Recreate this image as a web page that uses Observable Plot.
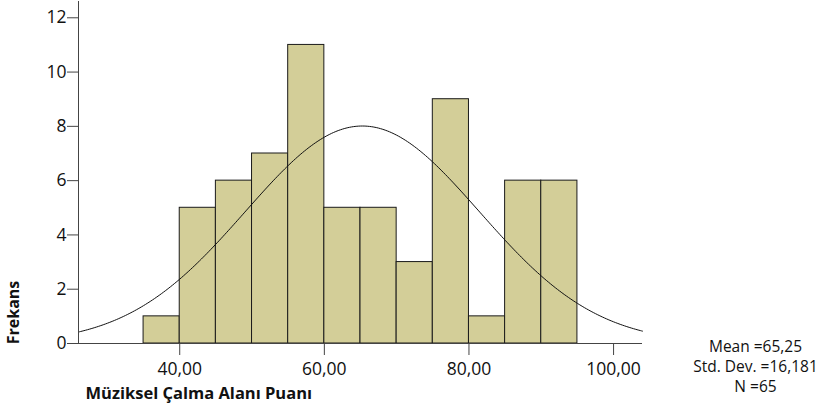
<!DOCTYPE html>
<html>
<head>
<meta charset="utf-8">
<script src="https://cdn.jsdelivr.net/npm/d3@7"></script>
<script src="https://cdn.jsdelivr.net/npm/@observablehq/plot@0.6"></script>
<style>
  html, body { margin: 0; padding: 0; background: #fff; }
  #chart svg { display: block; }
  #chart g[aria-label="x-axis tick label"], #chart g[aria-label="y-axis tick label"] { font-size: 17.5px; }
</style>
</head>
<body>
<div id="chart"></div>
<script>
// Histogram bins (lower edge) and frequencies
const binStart = [35, 40, 45, 50, 55, 60, 65, 70, 75, 80, 85, 90];
const counts   = [1, 5, 6, 7, 11, 5, 5, 3, 9, 1, 6, 6];
const binWidth = 5;
// Summary statistics shown in the chart
const mean = 65.25;
const stdDev = 16.181;
const nObs = 65;
const xTicks = [40, 60, 80, 100];
const yTicks = [0, 2, 4, 6, 8, 10, 12];
const xLabel = "Müziksel Çalma Alanı Puanı";
const yLabel = "Frekans";
const statsLines = ["Mean =65,25", "Std. Dev. =16,181", "N =65"];

const bars = binStart.map((s, i) => ({x1: s, x2: s + binWidth, y: counts[i]}));
// Fitted normal curve from the stated mean / sd / N
const curve = d3.range(26, 104.001, 0.25).map(x => ({
  x,
  y: nObs * binWidth / (stdDev * Math.sqrt(2 * Math.PI)) * Math.exp(-0.5 * ((x - mean) / stdDev) ** 2)
}));
const fmt = d => d3.format(".2f")(d).replace(".", ",");

const axisColor = "#444";
const statMarks = statsLines.map((t, i) =>
  Plot.text([t], {frameAnchor: "bottom-right", dx: 113, dy: 4 + i * 20, textAnchor: "middle", lineAnchor: "middle", fontSize: 15.5, fill: "#111"})
);
const chart = Plot.plot({
  width: 824,
  height: 414,
  marginLeft: 78,
  marginRight: 182,
  marginTop: 1,
  marginBottom: 71,
  style: {fontFamily: "'Open Sans', sans-serif", fontSize: "17px", color: "#111", background: "#fff"},
  x: {domain: [26, 104], axis: null},
  y: {domain: [0, 12.6], axis: null},
  marks: [
    Plot.rectY(bars, {x1: "x1", x2: "x2", y: "y", fill: "#d3ce98", stroke: "#1a1a1a", strokeWidth: 1}),
    Plot.line(curve, {x: "x", y: "y", stroke: "#111", strokeWidth: 1, curve: "basis"}),
    Plot.ruleY([0], {stroke: axisColor}),
    Plot.ruleX([26], {stroke: axisColor}),
    Plot.axisY(yTicks, {tickSize: 11, tickPadding: 1, stroke: axisColor, tickFormat: d => d, label: null}),
    Plot.axisX(xTicks, {tickSize: 12, tickPadding: 7, stroke: axisColor, tickFormat: fmt, label: null}),
    Plot.text([xLabel], {frameAnchor: "bottom-left", dx: 7, dy: 55, textAnchor: "start", fontWeight: "bold", fontSize: 16.5, fill: "#111"}),
    Plot.text([yLabel], {frameAnchor: "bottom-left", dx: -60, dy: -31, rotate: -90, textAnchor: "middle", fontWeight: "bold", fontSize: 16, fill: "#111"}),
    ...statMarks
  ]
});
document.getElementById("chart").appendChild(chart);
</script>
</body>
</html>
